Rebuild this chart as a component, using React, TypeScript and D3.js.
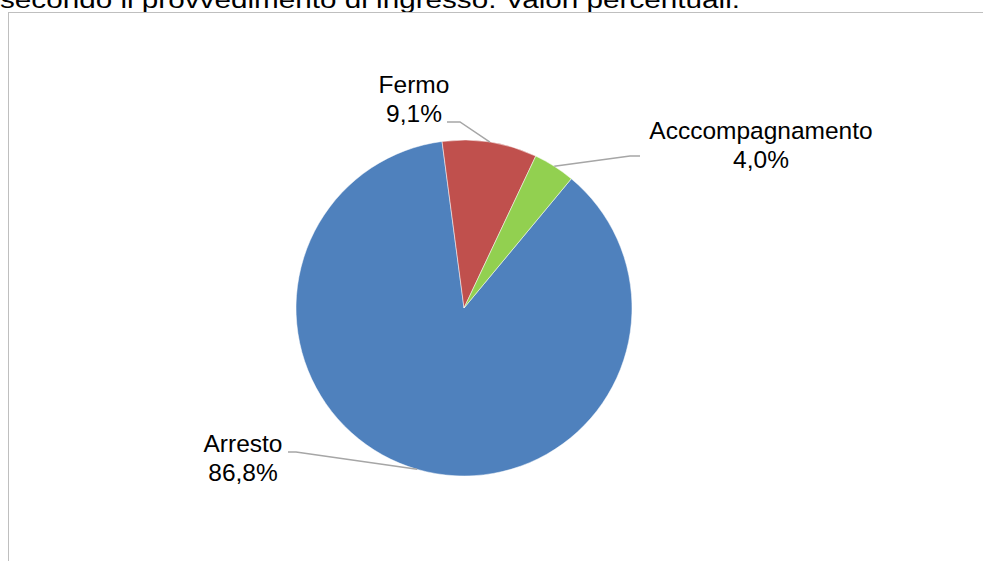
import React from "react";
import * as d3 from "d3";

const categories = ["Arresto", "Fermo", "Acccompagnamento"];
const values = [86.8, 9.1, 4.0];
const valueLabels = ["86,8%", "9,1%", "4,0%"];
const colors = ["#4F81BD", "#C0504D", "#92D050"];
const titleText = "secondo il provvedimento di ingresso. Valori percentuali.";

const W = 983;
const H = 561;
const cx = 464;
const cy = 308;
const R = 168;
const startDeg = 39.7;

const labelPos = [
  { x: 243, y: 452, lineStart: [288, 452], elbow: [296, 452] },
  { x: 414, y: 93, lineStart: [447, 122], elbow: [460, 122] },
  { x: 761, y: 139, lineStart: [640, 156], elbow: [630, 156] },
];

export default function App() {
  const data = categories.map((c, i) => ({ c, v: values[i], i }));
  const start = (startDeg * Math.PI) / 180;
  const pie = d3
    .pie<any>()
    .value((d) => d.v)
    .sort(null)
    .startAngle(start)
    .endAngle(start + 2 * Math.PI);
  const arcs = pie(data);
  const arc = d3.arc<any>().innerRadius(0).outerRadius(R);

  const font = "Arial, 'Liberation Sans', sans-serif";

  return (
    <svg
      width={W}
      height={H}
      style={{ position: "absolute", left: 0, top: 0, background: "#fff" }}
    >
      <text
        x={0}
        y={8}
        fontFamily={font}
        fontSize={24.5}
        fill="#000"
        textLength={740}
        lengthAdjust="spacingAndGlyphs"
      >
        {titleText}
      </text>
      <rect
        x={8.5}
        y={12.5}
        width={W + 20}
        height={H + 20}
        fill="none"
        stroke="#bfbfbf"
        strokeWidth={1}
      />
      <g transform={`translate(${cx},${cy})`}>
        {arcs.map((a, i) => (
          <path
            key={i}
            d={arc(a) as string}
            fill={colors[i]}
            stroke="#ffffff"
            strokeWidth={0.5}
          />
        ))}
      </g>
      {arcs.map((a, i) => {
        const lp = labelPos[i];
        const mid = (a.startAngle + a.endAngle) / 2;
        const ang = i === 0 ? (196.2 * Math.PI) / 180 : mid;
        const px = cx + R * Math.sin(ang);
        const py = cy - R * Math.cos(ang);
        return (
          <g key={i}>
            <polyline
              points={`${lp.lineStart[0]},${lp.lineStart[1]} ${lp.elbow[0]},${lp.elbow[1]} ${px},${py}`}
              fill="none"
              stroke="#a6a6a6"
              strokeWidth={1.5}
            />
            <text
              x={lp.x}
              y={lp.y}
              textAnchor="middle"
              fontFamily={font}
              fontSize={24.5}
              fill="#000"
            >
              {categories[i]}
            </text>
            <text
              x={lp.x}
              y={lp.y + 29}
              textAnchor="middle"
              fontFamily={font}
              fontSize={24.5}
              fill="#000"
            >
              {valueLabels[i]}
            </text>
          </g>
        );
      })}
    </svg>
  );
}
